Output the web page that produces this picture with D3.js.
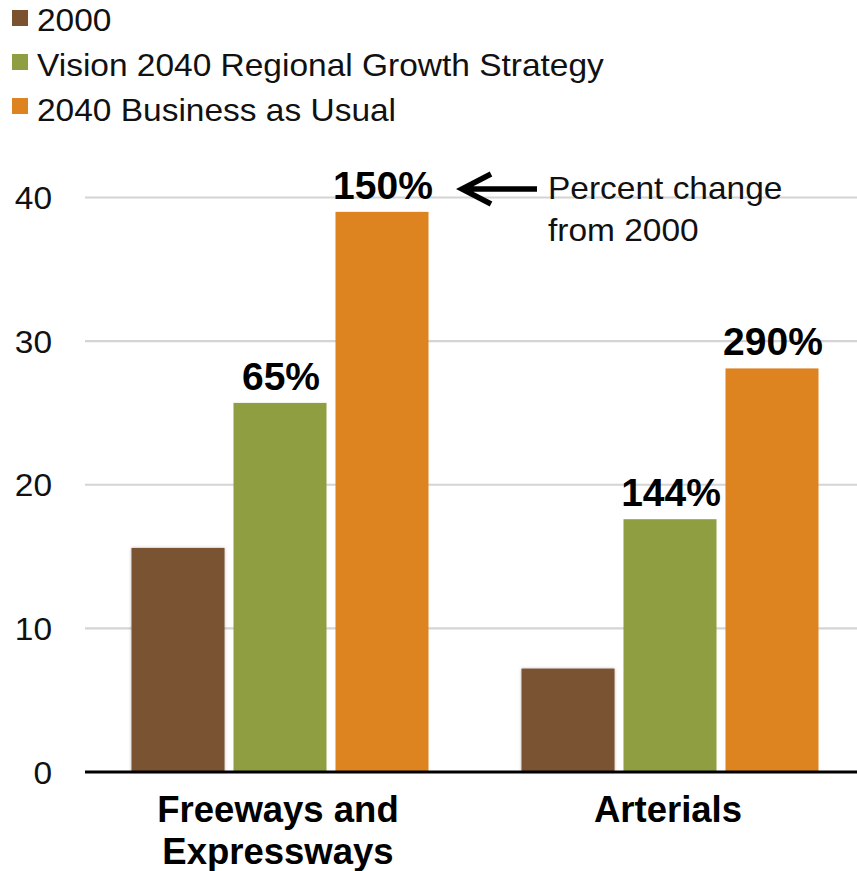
<!DOCTYPE html>
<html>
<head>
<meta charset="utf-8">
<script src="https://cdn.jsdelivr.net/npm/d3@7"></script>
<style>
  html, body { margin: 0; padding: 0; background: #fff; }
  svg { display: block; font-family: "Liberation Sans", Arial, Helvetica, sans-serif; }
</style>
</head>
<body>
<svg id="chart" width="857" height="871"></svg>
<script>
// Road categories and the three scenarios
const categories = ["Freeways and Expressways", "Arterials"];
const categoryLines = [["Freeways and", "Expressways"], ["Arterials"]];
const seriesNames = ["2000", "Vision 2040 Regional Growth Strategy", "2040 Business as Usual"];
const seriesColors = ["#7A5230", "#8F9E40", "#DD8420"];

// Values per series, one entry per category
const values2000 = [15.6, 7.2];
const valuesVision = [25.7, 17.6];
const valuesBAU = [39.0, 28.1];

// Percent change labels (null = no label)
const labelsVision = ["65%", "144%"];
const labelsBAU = ["150%", "290%"];

const yTicks = [0, 10, 20, 30, 40];

const seriesValues = [values2000, valuesVision, valuesBAU];
const seriesLabels = [[null, null], labelsVision, labelsBAU];

// Regular text is set slightly wide
const WIDE = 1.08;

const svg = d3.select("#chart");

const defs = svg.append("defs");
const shadow = defs.append("filter").attr("id", "barShadow")
  .attr("x", "-10%").attr("y", "-10%").attr("width", "120%").attr("height", "120%");
shadow.append("feDropShadow").attr("dx", 0).attr("dy", 0)
  .attr("stdDeviation", 1.4).attr("flood-color", "#000").attr("flood-opacity", 0.3);

const plotLeft = 85, plotRight = 865, plotTop = 197.5, plotBottom = 772;

const x0 = d3.scaleBand().domain(categories).range([plotLeft, plotRight]).padding(0);
const x1 = d3.scaleBand().domain(seriesNames).range([0, x0.bandwidth()])
  .paddingInner(0.088).paddingOuter(0.456);
const y = d3.scaleLinear().domain([0, 40]).range([plotBottom, plotTop]);

// Gridlines
svg.append("g")
  .selectAll("line")
  .data(yTicks.filter(d => d > 0))
  .join("line")
  .attr("x1", plotLeft).attr("x2", 857)
  .attr("y1", d => y(d)).attr("y2", d => y(d))
  .attr("stroke", "#d4d4d4").attr("stroke-width", 2.2);

// Y axis tick labels
const yAxis = d3.axisLeft(y).tickValues(yTicks).tickSize(0).tickPadding(0).tickFormat(d3.format("d"));
const yG = svg.append("g").attr("transform", `translate(52,0)`).call(yAxis);
yG.select(".domain").remove();
yG.selectAll(".tick text")
  .attr("font-size", 31).attr("fill", "#111")
  .attr("font-family", '"Liberation Sans", Arial, sans-serif')
  .attr("x", 0)
  .attr("dy", "0.36em")
  .attr("transform", `scale(${WIDE},1)`);

// Bars
const groups = svg.append("g").selectAll("g")
  .data(seriesNames)
  .join("g")
  .attr("fill", (d, i) => seriesColors[i]);

groups.each(function(name, si) {
  d3.select(this).selectAll("rect")
    .data(categories.map((c, ci) => ({ c, v: seriesValues[si][ci] })))
    .join("rect")
    .attr("x", d => x0(d.c) + x1(name))
    .attr("width", x1.bandwidth())
    .attr("y", d => y(d.v))
    .attr("height", d => y(0) - y(d.v))
    .attr("filter", si === 0 ? "url(#barShadow)" : null);
});

// Value labels above bars
seriesNames.forEach((name, si) => {
  svg.append("g").selectAll("text")
    .data(categories.map((c, ci) => ({ c, v: seriesValues[si][ci], t: seriesLabels[si][ci] })).filter(d => d.t))
    .join("text")
    .attr("x", d => x0(d.c) + x1(name) + x1.bandwidth() / 2 + 1)
    .attr("y", d => y(d.v) - 13)
    .attr("text-anchor", "middle")
    .attr("font-size", 39).attr("font-weight", "bold").attr("fill", "#000")
    .text(d => d.t);
});

// Baseline axis
svg.append("line")
  .attr("x1", plotLeft).attr("x2", 857)
  .attr("y1", y(0)).attr("y2", y(0))
  .attr("stroke", "#000").attr("stroke-width", 2.8);

// Category labels
categories.forEach((c, ci) => {
  const cx = x0(c) + x0.bandwidth() / 2 - 2;
  const t = svg.append("text")
    .attr("x", cx)
    .attr("y", 822)
    .attr("text-anchor", "middle")
    .attr("font-size", 36.5).attr("font-weight", "bold").attr("fill", "#000");
  categoryLines[ci].forEach((line, li) => {
    t.append("tspan").attr("x", cx)
      .attr("dy", li === 0 ? 0 : 42).text(line);
  });
});

// Legend
const legend = svg.append("g");
seriesNames.forEach((name, i) => {
  legend.append("rect").attr("x", 12).attr("y", 10 + i * 44).attr("width", 16).attr("height", 16)
    .attr("fill", seriesColors[i]);
  legend.append("text")
    .attr("transform", `translate(37,${31 + i * 45}) scale(${WIDE},1)`)
    .attr("font-size", 31).attr("fill", "#111").text(name);
});

// Annotation arrow and note
const arrowY = 189;
svg.append("path")
  .attr("d", `M537,${arrowY} L464,${arrowY} M491,${arrowY - 15} L462,${arrowY} L491,${arrowY + 15}`)
  .attr("fill", "none").attr("stroke", "#000").attr("stroke-width", 5.5)
  .attr("stroke-linejoin", "miter").attr("stroke-linecap", "butt");
const note = svg.append("text")
  .attr("transform", `translate(548,199) scale(${WIDE},1)`)
  .attr("font-size", 31).attr("fill", "#111");
note.append("tspan").attr("x", 0).attr("dy", 0).text("Percent change");
note.append("tspan").attr("x", 0).attr("dy", 42).text("from 2000");
</script>
</body>
</html>
